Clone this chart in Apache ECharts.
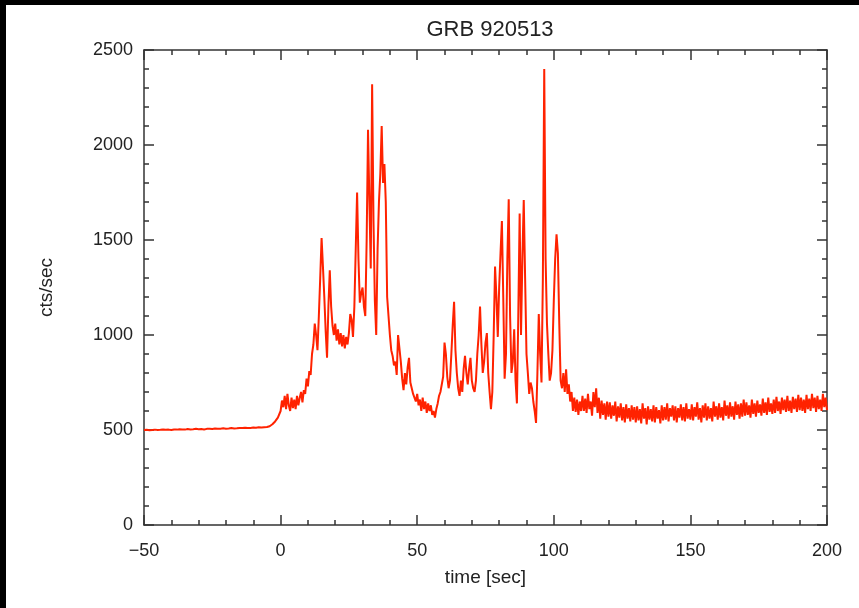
<!DOCTYPE html>
<html>
<head>
<meta charset="utf-8">
<script src="https://cdn.jsdelivr.net/npm/echarts@6/dist/echarts.min.js"></script>
<style>
html,body{margin:0;padding:0;background:#fff;}
#chart{width:859px;height:608px;}
</style>
</head>
<body>
<div id="chart"></div>
<script>
// ---- data ----
var chartTitle = 'GRB 920513';
var xAxisName = 'time [sec]';
var yAxisName = 'cts/sec';

// pre-burst background: starts at -50 s, 1 s bins
var preStart = -50, preStep = 1;
var preBurstCounts = [500,501,499,500,502,500,501,503,501,502,500,503,502,504,503,502,505,503,504,506,
  504,505,503,506,507,505,508,506,507,509,507,508,510,508,509,511,510,512,510,511,
  513,512,514,513,515,516,520,530,545,565];

// burst: starts at 0 s, 0.5 s bins
var burstStart = 0, burstStep = 0.5;
var burstCounts = [
  600,655,620,680,610,690,630,600,670,615,660,610,680,630,670,700,645,710,690,770,
  730,810,790,900,950,1060,1000,920,1100,1300,1510,1360,1200,1020,880,1150,1340,1150,1050,1000,
  1060,970,1030,950,1010,940,1000,930,990,950,1010,1110,1080,990,1150,1450,1750,1400,1170,1220,
  1250,1150,1100,1500,2080,1700,1350,2320,1600,1180,1000,1450,1700,1850,2100,1800,1900,1700,1200,1100,
  1000,920,890,840,860,790,1000,1010,860,770,710,800,740,830,880,750,760,690,700,650,
  690,630,660,600,670,610,650,590,640,600,630,580,600,565,610,640,680,700,710,780,
  960,900,780,720,760,900,1050,1175,920,800,720,680,760,700,820,890,800,740,820,880,
  760,720,700,760,900,1000,1150,950,800,860,960,1010,800,700,610,700,1000,1360,1200,990,
  1250,1430,1600,1200,770,900,1400,1715,1100,800,860,1030,760,640,1100,1640,1000,1400,1710,1300,
  900,800,690,750,720,650,600,537,800,1110,900,750,1300,2400,1400,1060,900,760,800,920,
  1180,1400,1530,1430,1060,760,720,800,700,820,690,740,650,700,600,670,595,660,580,650,
  600];

// post-burst background: starts at 110.5 s, 0.5 s bins
var postStart = 110.5, postStep = 0.5;
var postBurstCounts = [
  680,600,665,590,690,610,650,575,700,620,720,590,670,560,655,580,640,555,650,570,
  645,560,630,575,650,545,625,565,640,550,620,540,635,560,615,545,630,555,620,540,
  625,550,610,535,640,560,615,530,625,555,610,545,630,540,620,560,605,535,630,550,
  620,555,640,545,615,570,630,550,625,540,615,565,635,550,620,545,640,560,610,555,
  635,550,620,570,645,555,615,540,630,565,640,550,625,560,615,545,650,570,625,555,
  640,565,620,550,655,575,630,560,645,570,625,555,650,580,635,560,640,570,660,575,
  645,580,630,565,660,585,640,570,655,590,635,575,665,590,645,580,670,595,640,585,
  660,590,675,600,650,585,670,605,660,595,680,600,655,590,675,610,665,595,685,605,
  670,600,660,590,685,610,665,600,690,615,670,595,680,610,660,600,690,620,670,605];

var xTicks = {min: -50, max: 200, interval: 50};
var yTicks = {min: 0, max: 2500, interval: 500};

// ---- build series points ----
function addSegment(out, start, step, vals) {
  for (var i = 0; i < vals.length; i++) out.push([start + i * step, vals[i]]);
}
var points = [];
addSegment(points, preStart, preStep, preBurstCounts);
addSegment(points, burstStart, burstStep, burstCounts);
addSegment(points, postStart, postStep, postBurstCounts);

var axisColor = '#333';
var textColor = '#222';
var font = 'Liberation Sans';

function xAx(pos, showLabels) {
  return {
    type: 'value', position: pos, min: xTicks.min, max: xTicks.max, interval: xTicks.interval,
    name: showLabels ? xAxisName : '', nameLocation: 'middle', nameGap: 43,
    nameTextStyle: {color: textColor, fontSize: 19, fontFamily: font},
    axisLine: {show: true, onZero: false, lineStyle: {color: axisColor, width: 1.5}},
    axisTick: {show: true, inside: true, length: 10, lineStyle: {color: axisColor, width: 1.5}},
    minorTick: {show: true, splitNumber: 5, length: 5, lineStyle: {color: axisColor, width: 1.5}},
    axisLabel: {show: showLabels, color: textColor, fontSize: 18, fontFamily: font, margin: 17,
      formatter: function (v) { return v < 0 ? '\u2212' + Math.abs(v) : String(v); }},
    splitLine: {show: false}
  };
}
function yAx(pos, showLabels) {
  return {
    type: 'value', position: pos, min: yTicks.min, max: yTicks.max, interval: yTicks.interval,
    name: showLabels ? yAxisName : '', nameLocation: 'middle', nameGap: 88,
    nameTextStyle: {color: textColor, fontSize: 19, fontFamily: font},
    axisLine: {show: true, onZero: false, lineStyle: {color: axisColor, width: 1.5}},
    axisTick: {show: true, inside: true, length: 10, lineStyle: {color: axisColor, width: 1.5}},
    minorTick: {show: true, splitNumber: 5, length: 5, lineStyle: {color: axisColor, width: 1.5}},
    axisLabel: {show: showLabels, color: textColor, fontSize: 18, fontFamily: font, margin: 11,
      formatter: function (v) { return String(v); }},
    splitLine: {show: false}
  };
}

var chart = echarts.init(document.getElementById('chart'), null, {renderer: 'canvas'});
chart.setOption({
  animation: false,
  backgroundColor: '#fff',
  title: {text: chartTitle, left: 485, top: 14, textAlign: 'center',
    textStyle: {color: textColor, fontSize: 22, fontWeight: 'normal', fontFamily: font}},
  grid: {left: 144, right: 32, top: 50, bottom: 83},
  xAxis: [xAx('bottom', true), xAx('top', false)],
  yAxis: [yAx('left', true), yAx('right', false)],
  series: [{
    type: 'line', xAxisIndex: 0, yAxisIndex: 0, data: points,
    showSymbol: false, symbol: 'none',
    lineStyle: {color: '#ff2200', width: 2},
    z: 1
  }],
  graphic: [
    {type: 'rect', left: 0, top: 0, shape: {width: 859, height: 5}, style: {fill: '#000'}, z: 100},
    {type: 'rect', left: 0, top: 0, shape: {width: 6, height: 608}, style: {fill: '#000'}, z: 100}
  ]
});
</script>
</body>
</html>
